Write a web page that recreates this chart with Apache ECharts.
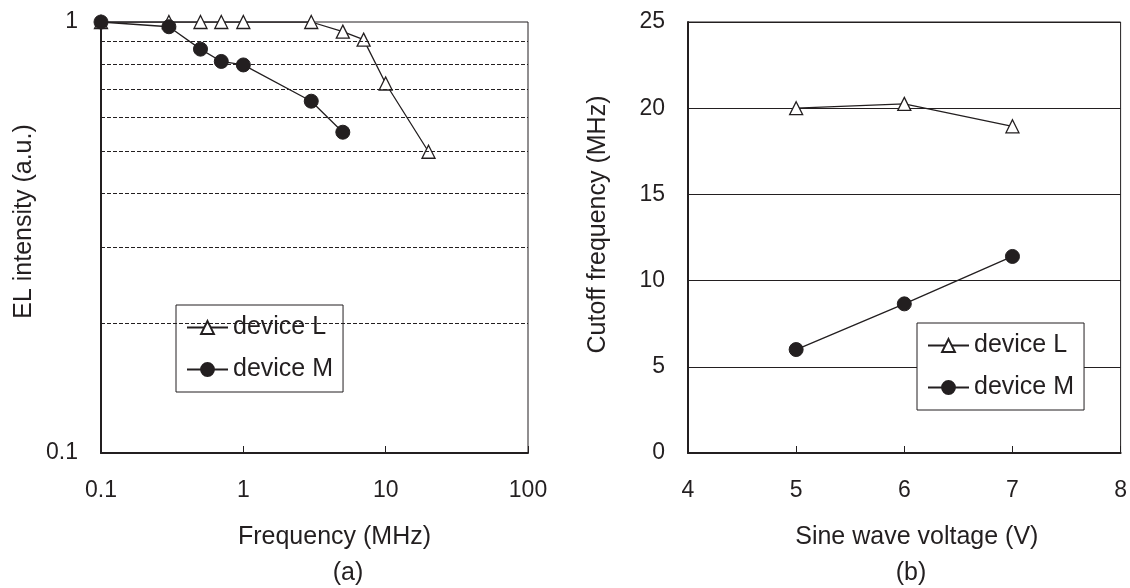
<!DOCTYPE html>
<html>
<head>
<meta charset="utf-8">
<script src="https://cdn.jsdelivr.net/npm/echarts@6/dist/echarts.min.js"></script>
<style>
    html, body { margin: 0; padding: 0; background: #fff; }
    #grafico { width: 1130px; height: 588px; }
</style>
</head>
<body>
<div id="grafico"></div>
<script>
// (a) EL intensity vs frequency, log-log
const freqL = [0.1, 0.3, 0.5, 0.7, 1, 3, 5, 7, 10, 20];
const intensityL = [1, 1, 1, 1, 1, 1, 0.95, 0.91, 0.72, 0.5];
const freqM = [0.1, 0.3, 0.5, 0.7, 1, 3, 5];
const intensityM = [1, 0.975, 0.865, 0.81, 0.795, 0.655, 0.555];
const guideLevels = [0.2, 0.3, 0.4, 0.5, 0.6, 0.7, 0.8, 0.9];

// (b) cutoff frequency vs sine wave voltage
const voltage = [5, 6, 7];
const cutoffL = [20, 20.25, 18.95];
const cutoffM = [6, 8.65, 11.4];

const seriesNames = ["device L", "device M"];

const ink = "#231f20";
const fuente = "Liberation Sans, Arial, sans-serif";

function pares(xs, ys) {
    return xs.map((x, i) => [x, ys[i]]);
}

const estiloL = {
    symbol: "triangle",
    symbolSize: 13,
    itemStyle: { color: "#fff", borderColor: ink, borderWidth: 1.3 },
    lineStyle: { color: ink, width: 1.3 },
};
const estiloM = {
    symbol: "circle",
    symbolSize: 14,
    itemStyle: { color: ink, borderColor: ink, borderWidth: 1 },
    lineStyle: { color: ink, width: 1.3 },
};

const ejeTexto = { color: ink, fontSize: 23, fontFamily: fuente };
const tituloTexto = { color: ink, fontSize: 25, fontFamily: fuente };

function leyenda(left, top) {
    return {
        data: seriesNames,
        orient: "vertical",
        left: left,
        top: top,
        itemWidth: 41,
        itemHeight: 16,
        itemGap: 17,
        padding: [10, 10, 10, 10],
        borderColor: ink,
        borderWidth: 1,
        borderRadius: 0,
        backgroundColor: "#fff",
        selectedMode: false,
        textStyle: { color: ink, fontSize: 25, fontFamily: fuente },
    };
}

const opciones = {
    animation: false,
    backgroundColor: "#fff",
    textStyle: { fontFamily: fuente },
    grid: [
        { left: 101, right: 602, top: 22, bottom: 135, show: true, borderColor: ink, borderWidth: 1 },
        { left: 688, right: 9, top: 22, bottom: 135, show: true, borderColor: ink, borderWidth: 1 },
    ],
    xAxis: [
        {
            gridIndex: 0,
            type: "log",
            logBase: 10,
            min: 0.1,
            max: 100,
            name: "Frequency (MHz)",
            nameLocation: "middle",
            nameGap: 72,
            nameTextStyle: Object.assign({ padding: [0, 0, 0, 40] }, tituloTexto),
            axisLine: { lineStyle: { color: ink, width: 2 } },
            axisTick: { inside: true, length: 7, lineStyle: { color: ink } },
            axisLabel: Object.assign({ margin: 26 }, ejeTexto),
            splitLine: { show: false },
        },
        {
            gridIndex: 1,
            type: "value",
            min: 4,
            max: 8,
            interval: 1,
            name: "Sine wave voltage (V)",
            nameLocation: "middle",
            nameGap: 72,
            nameTextStyle: Object.assign({ padding: [0, 0, 0, 25] }, tituloTexto),
            axisLine: { lineStyle: { color: ink, width: 2 } },
            axisTick: { inside: true, length: 7, lineStyle: { color: ink } },
            axisLabel: Object.assign({ margin: 26 }, ejeTexto),
            splitLine: { show: false },
        },
    ],
    yAxis: [
        {
            gridIndex: 0,
            type: "log",
            logBase: 10,
            min: 0.1,
            max: 1,
            name: "EL intensity (a.u.)",
            nameLocation: "middle",
            nameGap: 64,
            nameTextStyle: Object.assign({ padding: [0, 0, 0, 32] }, tituloTexto),
            axisLine: { lineStyle: { color: ink, width: 2 } },
            axisTick: { show: false },
            axisLabel: Object.assign({ margin: 23 }, ejeTexto),
            splitLine: { show: false },
        },
        {
            gridIndex: 1,
            type: "value",
            min: 0,
            max: 25,
            interval: 5,
            name: "Cutoff frequency (MHz)",
            nameLocation: "middle",
            nameGap: 77,
            nameTextStyle: Object.assign({ padding: [0, 0, 0, 26] }, tituloTexto),
            axisLine: { lineStyle: { color: ink, width: 2 } },
            axisTick: { show: false },
            axisLabel: Object.assign({ margin: 23 }, ejeTexto),
            splitLine: { show: true, lineStyle: { color: ink, width: 1 } },
        },
    ],
    legend: [leyenda(176, 305), leyenda(917, 323)],
    series: [
        Object.assign({
            name: "device L",
            type: "line",
            xAxisIndex: 0,
            yAxisIndex: 0,
            z: 3,
            data: pares(freqL, intensityL),
            markLine: {
                silent: true,
                symbol: ["none", "none"],
                label: { show: false },
                lineStyle: { type: [4, 2], color: ink, width: 1 },
                data: guideLevels.map(v => ({ yAxis: v })),
            },
        }, estiloL),
        Object.assign({
            name: "device M",
            type: "line",
            xAxisIndex: 0,
            yAxisIndex: 0,
            z: 4,
            data: pares(freqM, intensityM),
        }, estiloM),
        Object.assign({
            name: "device L",
            type: "line",
            xAxisIndex: 1,
            yAxisIndex: 1,
            z: 3,
            data: pares(voltage, cutoffL),
        }, estiloL),
        Object.assign({
            name: "device M",
            type: "line",
            xAxisIndex: 1,
            yAxisIndex: 1,
            z: 4,
            data: pares(voltage, cutoffM),
        }, estiloM),
    ],
    graphic: [
        {
            type: "text",
            x: 348,
            y: 573,
            style: { text: "(a)", font: "25px " + fuente, fill: ink, textAlign: "center", textVerticalAlign: "middle" },
        },
        {
            type: "text",
            x: 911,
            y: 573,
            style: { text: "(b)", font: "25px " + fuente, fill: ink, textAlign: "center", textVerticalAlign: "middle" },
        },
    ],
};

const contenedor = document.getElementById("grafico");
const miGrafico = echarts.init(contenedor, null, { renderer: "canvas" });
miGrafico.setOption(opciones);
</script>
</body>
</html>
